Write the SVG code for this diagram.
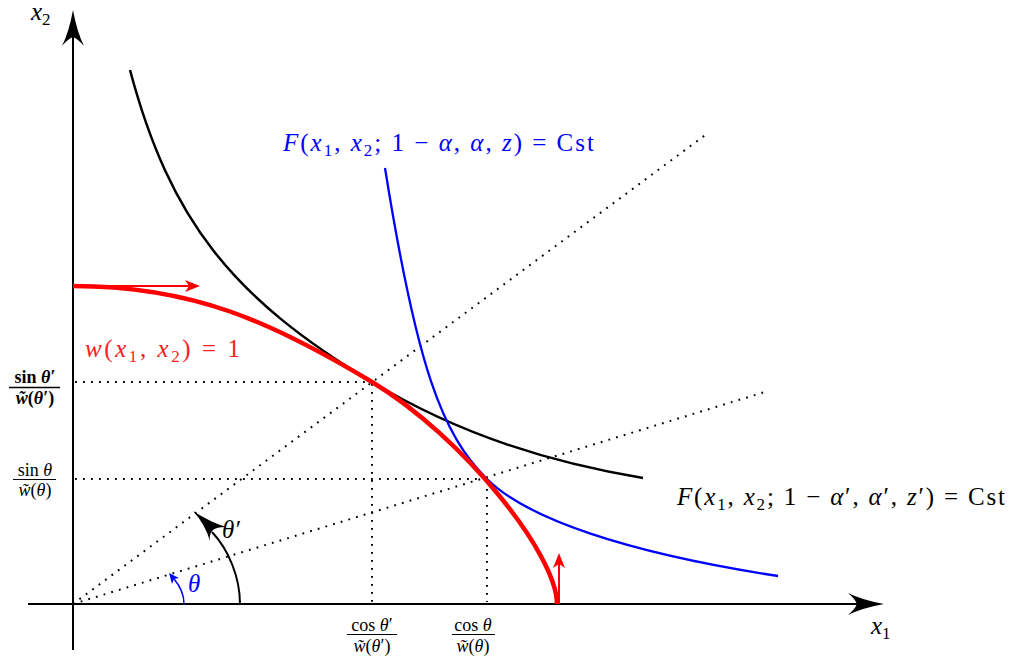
<svg xmlns="http://www.w3.org/2000/svg" width="1019" height="660" viewBox="0 0 1019 660">
<style>
text{font-family:"Liberation Serif","DejaVu Serif",serif;fill:#000}
.i{font-style:italic}
.lab{font-size:25px}
.fr{font-size:18px}
.sub{font-size:17px}
.blue{fill:#0000ff}
.red{fill:#ff2020}
.dot{fill:none;stroke:#000;stroke-width:2;stroke-dasharray:1.8 6.2}
.ax{fill:none;stroke:#000;stroke-width:2}
</style>
<rect width="1019" height="660" fill="#fff"/>
<g id="guides">
<line class="dot" x1="73" y1="604" x2="708" y2="133"/>
<line class="dot" x1="73" y1="604" x2="768" y2="391"/>
<line class="dot" x1="75" y1="382" x2="372" y2="382"/>
<line class="dot" x1="75" y1="479" x2="487" y2="479"/>
<line class="dot" x1="372" y1="384" x2="372" y2="602"/>
<line class="dot" x1="487" y1="481" x2="487" y2="602"/>
</g>
<g id="axes">
<line class="ax" x1="73" y1="650" x2="73" y2="36"/>
<path d="M73,10 Q77,32 84,46 Q78,39 73,37 Q68,39 62,46 Q69,32 73,10 Z" fill="#000"/>
<line class="ax" x1="28" y1="604" x2="860" y2="604"/>
<path d="M884,604 Q862,608 848,615 Q855,609 857,604 Q855,599 848,593 Q862,600 884,604 Z" fill="#000"/>
<text class="lab i" x="31" y="20">x<tspan class="sub" dy="5" font-style="normal">2</tspan></text>
<text class="lab i" x="871" y="634">x<tspan class="sub" dy="5" font-style="normal">1</tspan></text>
</g>
<g id="curve-black">
<path d="M130,70 C170,220 232,298 372,382 C462,436 553,463 643,478" fill="none" stroke="#000" stroke-width="2.5"/>
<text class="lab" x="677" y="505" textLength="328" lengthAdjust="spacing"><tspan class="i">F</tspan>(<tspan class="i">x</tspan><tspan class="sub" dy="5">1</tspan><tspan dy="-5">, </tspan><tspan class="i">x</tspan><tspan class="sub" dy="5">2</tspan><tspan dy="-5">; 1 − </tspan><tspan class="i">α</tspan>′, <tspan class="i">α</tspan>′, <tspan class="i">z</tspan>′) = Cst</text>
</g>
<g id="curve-blue">
<path d="M385,168 C417,368 442,434 487,479 C527,519 628,553 778,576" fill="none" stroke="#0000ff" stroke-width="2.3"/>
<text class="lab blue" x="283" y="151" textLength="311" lengthAdjust="spacing"><tspan class="i">F</tspan>(<tspan class="i">x</tspan><tspan class="sub" dy="5">1</tspan><tspan dy="-5">, </tspan><tspan class="i">x</tspan><tspan class="sub" dy="5">2</tspan><tspan dy="-5">; 1 − </tspan><tspan class="i">α</tspan>, <tspan class="i">α</tspan>, <tspan class="i">z</tspan>) = Cst</text>
</g>
<g id="curve-red">
<path d="M73,286 C193,286 272,322 372,382 C462,436 557,554 557,604" fill="none" stroke="#ff0000" stroke-width="4.5"/>
<line x1="73" y1="286" x2="190" y2="286" stroke="#ff0000" stroke-width="2"/>
<path d="M200,286 L185,280 L189,286 L185,292 Z" fill="#ff0000"/>
<line x1="559" y1="604" x2="559" y2="563" stroke="#ff0000" stroke-width="2"/>
<path d="M559,553 L553,568 L559,564 L565,568 Z" fill="#ff0000"/>
<text class="lab red i" x="85" y="357" textLength="155" lengthAdjust="spacing">w<tspan font-style="normal">(</tspan>x<tspan class="sub" dy="5" font-style="normal">1</tspan><tspan dy="-5" font-style="normal">, </tspan>x<tspan class="sub" dy="5" font-style="normal">2</tspan><tspan dy="-5" font-style="normal">) = 1</tspan></text>
</g>
<g id="angle-theta-prime">
<path d="M240,604 C240,578 229,550 212,532" fill="none" stroke="#000" stroke-width="2"/>
<path d="M193,511 Q210,522 226,527 Q215,527 212,531 Q209,535 210,541 Q205,524 193,511 Z" fill="#000"/>
<text class="lab i" x="222" y="538">θ′</text>
</g>
<g id="angle-theta">
<path d="M184,604 C184,594 180,586 174,579" fill="none" stroke="#0000ff" stroke-width="1.5"/>
<path d="M169,573 L179,578 L174,579 L172,584 Z" fill="#0000ff"/>
<text class="lab i blue" x="188" y="592">θ</text>
</g>
<g id="ticks">
<text class="fr" x="35" y="383" text-anchor="middle" font-weight="bold">sin <tspan class="i">θ</tspan>′</text>
<line x1="9" y1="387.5" x2="60" y2="387.5" stroke="#000" stroke-width="1.4"/>
<text class="fr" x="35" y="404" text-anchor="middle" font-weight="bold"><tspan class="i">w̃</tspan>(<tspan class="i">θ</tspan>′)</text>
<text class="fr" x="35" y="476" text-anchor="middle">sin <tspan class="i">θ</tspan></text>
<line x1="13" y1="479.5" x2="56" y2="479.5" stroke="#000" stroke-width="1"/>
<text class="fr" x="35" y="496" text-anchor="middle"><tspan class="i">w̃</tspan>(<tspan class="i">θ</tspan>)</text>
<text class="fr" x="372" y="631" text-anchor="middle">cos <tspan class="i">θ</tspan>′</text>
<line x1="347" y1="634.5" x2="397" y2="634.5" stroke="#000" stroke-width="1"/>
<text class="fr" x="372" y="652" text-anchor="middle"><tspan class="i">w̃</tspan>(<tspan class="i">θ</tspan>′)</text>
<text class="fr" x="473" y="631" text-anchor="middle">cos <tspan class="i">θ</tspan></text>
<line x1="452" y1="634.5" x2="495" y2="634.5" stroke="#000" stroke-width="1"/>
<text class="fr" x="473" y="652" text-anchor="middle"><tspan class="i">w̃</tspan>(<tspan class="i">θ</tspan>)</text>
</g>
</svg>
